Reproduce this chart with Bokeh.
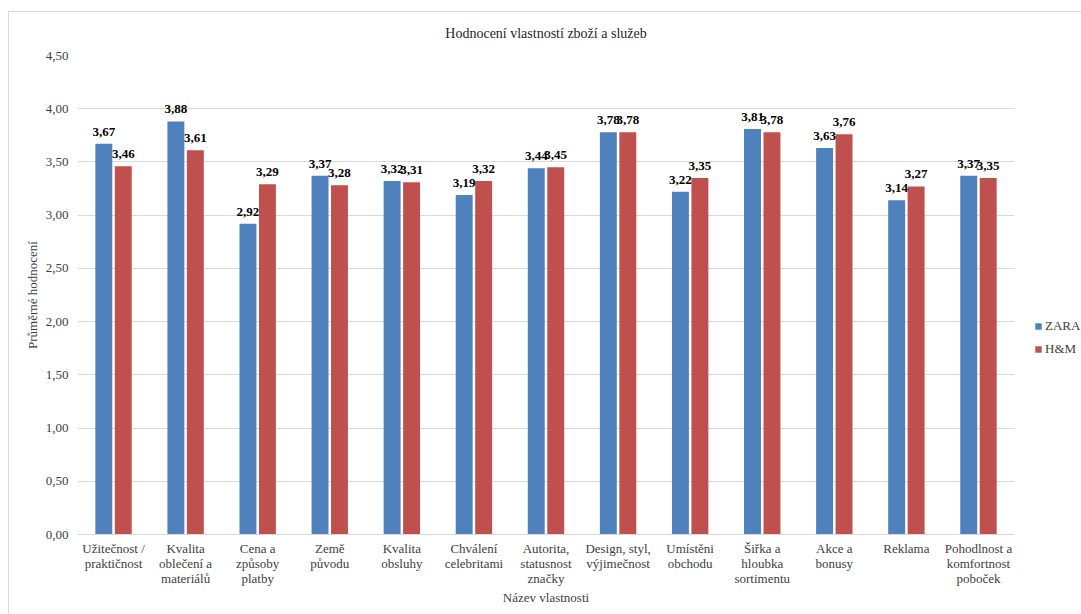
from bokeh.plotting import figure
from bokeh.models import ColumnDataSource, FactorRange, Range1d, LabelSet, Legend, LegendItem, CustomJSTickFormatter
from bokeh.layouts import row
from bokeh.transform import dodge
from bokeh.embed import file_html
from bokeh.resources import INLINE

categories = [
    "Užitečnost /\npraktičnost",
    "Kvalita\noblečení a\nmateriálů",
    "Cena a\nzpůsoby\nplatby",
    "Země\npůvodu",
    "Kvalita\nobsluhy",
    "Chválení\ncelebritami",
    "Autorita,\nstatusnost\nznačky",
    "Design, styl,\nvýjimečnost",
    "Umístěni\nobchodu",
    "Šiřka a\nhloubka\nsortimentu",
    "Akce a\nbonusy",
    "Reklama",
    "Pohodlnost a\nkomfortnost\npoboček",
]
zara = [3.67, 3.88, 2.92, 3.37, 3.32, 3.19, 3.44, 3.78, 3.22, 3.81, 3.63, 3.14, 3.37]
hm = [3.46, 3.61, 3.29, 3.28, 3.31, 3.32, 3.45, 3.78, 3.35, 3.78, 3.76, 3.27, 3.35]
series_names = ["ZARA", "H&M"]
series_colors = ["#4F81BD", "#C0504D"]
y_ticks = [0, 0.5, 1.0, 1.5, 2.0, 2.5, 3.0, 3.5, 4.0, 4.5]

FONT = "Liberation Serif"
TXT = "#404040"

def fmt(v):
    return f"{v:.2f}".replace(".", ",")

src = ColumnDataSource(dict(
    cat=categories,
    zara=zara,
    hm=hm,
    zara_lbl=[fmt(v) for v in zara],
    hm_lbl=[fmt(v) for v in hm],
))

p = figure(
    width=1020, height=614,
    x_range=FactorRange(*categories, range_padding=0),
    y_range=Range1d(0, 4.5),
    output_backend="svg", toolbar_location=None,
    min_border_left=77, min_border_right=6, min_border_top=55, min_border_bottom=80,
)
p.outline_line_color = None
p.border_fill_alpha = 0

p.title.text = "Hodnocení vlastností zboží a služeb"
p.title.align = "center"
p.title.text_font = FONT
p.title.text_font_size = "14px"
p.title.text_font_style = "normal"
p.title.text_color = "#262626"
p.title.offset = 0
p.title.standoff = 30

w = 0.235
r1 = p.vbar(x=dodge("cat", -0.135, range=p.x_range), top="zara", width=w, source=src,
            fill_color=series_colors[0], line_color=None)
r2 = p.vbar(x=dodge("cat", 0.135, range=p.x_range), top="hm", width=w, source=src,
            fill_color=series_colors[1], line_color=None)

for col, off in (("zara", -0.135), ("hm", 0.135)):
    lbl = LabelSet(x=dodge("cat", off, range=p.x_range), y=col, text=col + "_lbl", source=src,
                   y_offset=8, text_align="center", text_baseline="bottom",
                   text_font=FONT, text_font_size="13px", text_font_style="bold",
                   text_color="#000000")
    p.add_layout(lbl)

# axes
p.xaxis.major_label_text_font = FONT
p.xaxis.major_label_text_font_size = "13px"
p.xaxis.major_label_text_line_height = 1.0
p.xaxis.major_label_text_color = TXT
p.xaxis.major_tick_line_color = None
p.xaxis.major_tick_out = 0
p.xaxis.major_tick_in = 0
p.xaxis.minor_tick_line_color = None
p.xaxis.axis_line_color = "#d9d9d9"
p.xaxis.major_label_standoff = 6
p.xaxis.axis_label = "Název vlastnosti"
p.xaxis.axis_label_text_font = FONT
p.xaxis.axis_label_text_font_size = "13px"
p.xaxis.axis_label_text_font_style = "normal"
p.xaxis.axis_label_text_color = TXT
p.xaxis.axis_label_standoff = 1

p.yaxis.ticker = y_ticks
p.yaxis.formatter = CustomJSTickFormatter(code="return tick.toFixed(2).replace('.', ',');")
p.yaxis.major_label_text_font = FONT
p.yaxis.major_label_text_font_size = "13px"
p.yaxis.major_label_text_color = TXT
p.yaxis.axis_line_color = None
p.yaxis.major_tick_line_color = None
p.yaxis.major_tick_out = 0
p.yaxis.major_tick_in = 0
p.yaxis.minor_tick_line_color = None
p.yaxis.major_label_standoff = 9
p.yaxis.axis_label = "Průměrné hodnocení"
p.yaxis.axis_label_text_font = FONT
p.yaxis.axis_label_text_font_size = "13px"
p.yaxis.axis_label_text_font_style = "normal"
p.yaxis.axis_label_text_color = TXT
p.yaxis.axis_label_standoff = 3

p.xgrid.grid_line_color = None
p.ygrid.grid_line_color = "#d9d9d9"

# legend panel (dummy renderers lie outside the visible range; they only supply legend swatches)
pl = figure(width=61, height=614, x_range=Range1d(0, 1), y_range=Range1d(0, 1),
            output_backend="svg", toolbar_location=None,
            min_border_left=0, min_border_right=0, min_border_top=0, min_border_bottom=0)
pl.axis.visible = False
pl.grid.visible = False
pl.outline_line_color = None
pl.border_fill_alpha = 0
pl.background_fill_alpha = 0
dummy = ColumnDataSource(dict(x=[5], top=[6], bottom=[5]))
lr = [pl.vbar(x="x", top="top", bottom="bottom", width=0.1, source=dummy,
              fill_color=c, line_color=None) for c in series_colors]
legend = Legend(items=[LegendItem(label=n, renderers=[r]) for n, r in zip(series_names, lr)],
                location=(14, 177), border_line_color=None, background_fill_alpha=0,
                glyph_width=8, glyph_height=8, label_text_font=FONT,
                label_text_font_size="13px", label_text_color=TXT,
                spacing=7, padding=0, margin=0, label_standoff=3)
pl.add_layout(legend)

layout = row(p, pl, spacing=0)
layout.styles = {
    "background-color": "#ffffff",
    "background-image": "linear-gradient(#d9d9d9, #d9d9d9), linear-gradient(#d9d9d9, #d9d9d9)",
    "background-size": "calc(100% - 8px) 1px, 1px calc(100% - 11px)",
    "background-position": "8px 11px, 8px 11px",
    "background-repeat": "no-repeat",
}
open("out.html", "w").write(file_html(layout, INLINE))
